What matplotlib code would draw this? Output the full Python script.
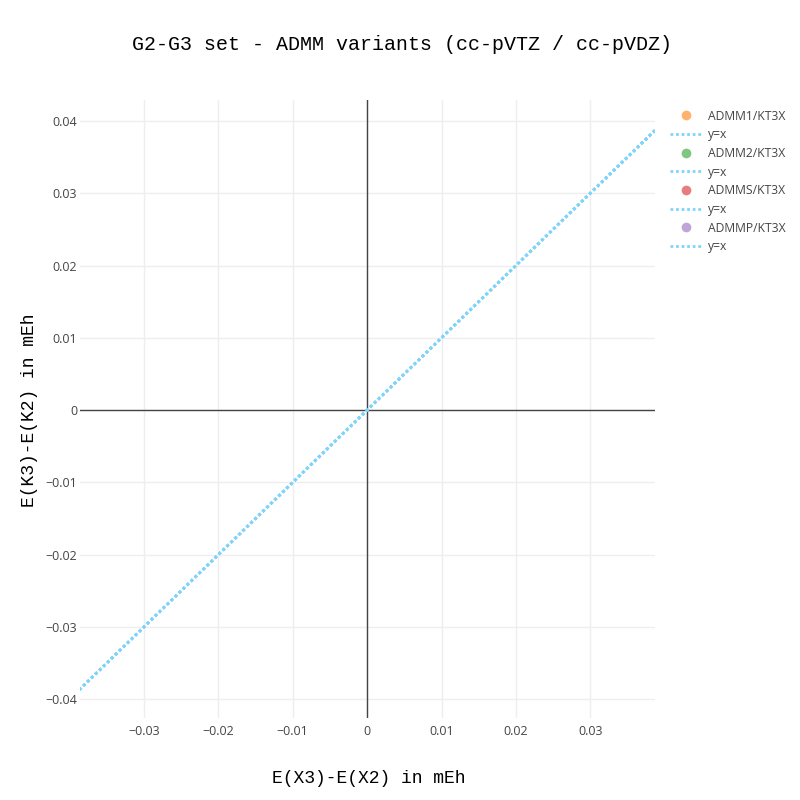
import matplotlib
matplotlib.use("Agg")
import matplotlib.pyplot as plt
from matplotlib.lines import Line2D

# Data
series_names = ["ADMM1/KT3X", "ADMM2/KT3X", "ADMMS/KT3X", "ADMMP/KT3X"]
series_colors = ["#ff7f0e", "#2ca02c", "#d62728", "#9467bd"]
series_x = [[], [], [], []]
series_y = [[], [], [], []]
ref_line = [-0.0387, 0.0387]
xticks = [-0.03, -0.02, -0.01, 0, 0.01, 0.02, 0.03]
yticks = [-0.04, -0.03, -0.02, -0.01, 0, 0.01, 0.02, 0.03, 0.04]
xlim = (-0.0386, 0.0387)
ylim = (-0.0426, 0.0429)

line_color = "#80d4fc"

fig = plt.figure(figsize=(8, 8), dpi=100)
ax = fig.add_axes([0.1, 0.1025, 0.71875, 0.7725])

handles = []
for name, col, xs, ys in zip(series_names, series_colors, series_x, series_y):
    ax.scatter(xs, ys, color=col, alpha=0.6, s=40, edgecolors="none", zorder=3)
    ax.plot(ref_line, ref_line, color=line_color, lw=2, ls=(0, (1, 1)), zorder=2)
    handles.append(Line2D([], [], marker="o", ls="none", color=col, alpha=0.6,
                          markersize=7, markeredgewidth=0, label=name))
    handles.append(Line2D([], [], color=line_color, lw=2, ls=(0, (1, 1)), label="y=x"))

ax.set_xlim(*xlim)
ax.set_ylim(*ylim)
ax.set_xticks(xticks)
ax.set_yticks(yticks)
ax.set_xticklabels(["\u22120.03", "\u22120.02", "\u22120.01", "0", "0.01", "0.02", "0.03"])
ax.set_yticklabels(["\u22120.04", "\u22120.03", "\u22120.02", "\u22120.01", "0", "0.01", "0.02", "0.03", "0.04"])
for lab in ax.get_xticklabels() + ax.get_yticklabels():
    lab.set_fontfamily("Open Sans")
    lab.set_fontsize(9)
    lab.set_color("#444444")
ax.tick_params(axis="y", length=0, pad=2)
ax.tick_params(axis="x", length=0, pad=5)
ax.grid(True, color="#eeeeee", lw=1)
ax.set_axisbelow(True)
for s in ax.spines.values():
    s.set_visible(False)
ax.axhline(0, color="#444444", lw=1, zorder=1.5)
ax.axvline(0, color="#444444", lw=1, zorder=1.5)

fig.text(0.5025, 0.945, "G2-G3 set - ADMM variants (cc-pVTZ / cc-pVDZ)",
         ha="center", va="center", family="Liberation Mono", fontsize=14.4, color="#000000")
fig.text(0.4615, 0.027, "E(X3)-E(X2) in mEh", ha="center", va="center",
         family="Liberation Mono", fontsize=13, color="#000000")
fig.text(0.037, 0.4875, "E(K3)-E(K2) in mEh", ha="center", va="center", rotation=90,
         family="Liberation Mono", fontsize=13, color="#000000")

leg = fig.legend(handles=handles, loc="upper left", bbox_to_anchor=(0.837, 0.863),
                 frameon=False, prop={"family": "Open Sans", "size": 8.7},
                 labelspacing=0.47, handlelength=2.7, handletextpad=0.45,
                 borderaxespad=0, borderpad=0)
for t in leg.get_texts():
    t.set_color("#444444")

fig.savefig("out.png", dpi=100, facecolor="white")
